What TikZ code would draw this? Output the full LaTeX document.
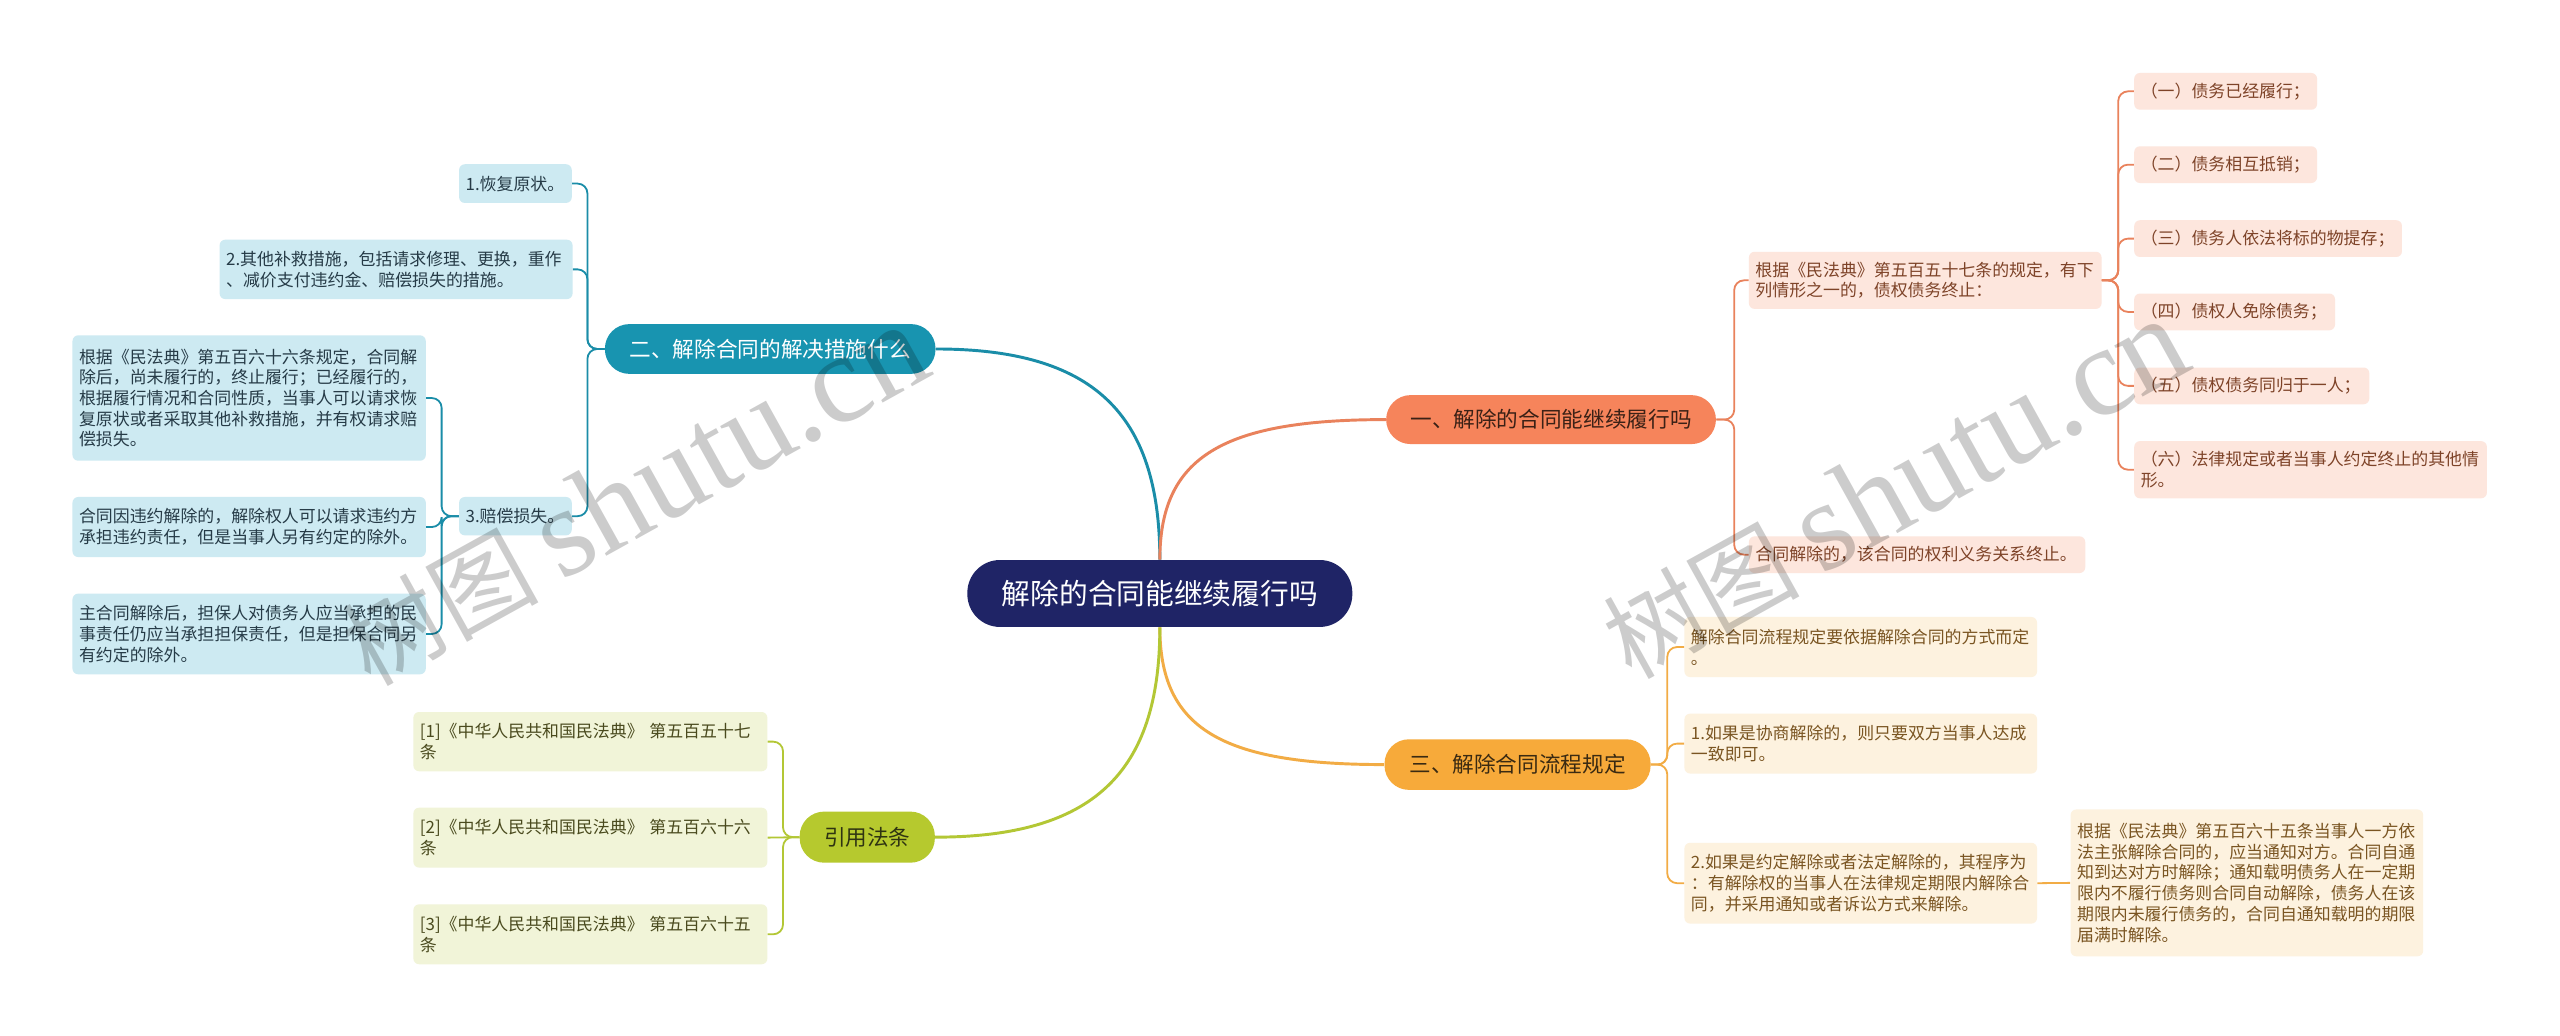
\documentclass[tikz,border=0pt]{standalone}
\usepackage{fontspec}
\setmainfont{Noto Sans CJK SC}
\newfontfamily\wmlatin{Liberation Serif}
\usetikzlibrary{calc}
\definecolor{cnavy}{HTML}{1F2466}
\definecolor{cteal}{HTML}{1894B0}
\definecolor{ctealline}{HTML}{1A8DA8}
\definecolor{ctealfill}{HTML}{CDEAF2}
\definecolor{ctealtxt}{HTML}{263B47}
\definecolor{corange}{HTML}{F6845B}
\definecolor{corangeline}{HTML}{E9825C}
\definecolor{corangefill}{HTML}{FDE6DD}
\definecolor{corangetxt}{HTML}{7E4328}
\definecolor{corangetop}{HTML}{3B2116}
\definecolor{camber}{HTML}{F7AA3A}
\definecolor{camberline}{HTML}{F2AC45}
\definecolor{camberfill}{HTML}{FDF2DF}
\definecolor{cambertxt}{HTML}{7A5522}
\definecolor{cambertop}{HTML}{3A2A12}
\definecolor{clime}{HTML}{B6C92E}
\definecolor{climeline}{HTML}{B3C735}
\definecolor{climefill}{HTML}{F1F4D8}
\definecolor{climetxt}{HTML}{4A4A1E}
\definecolor{climetop}{HTML}{2F3412}
\tikzset{
  topic/.style={rounded corners=15pt, inner sep=0pt, font=\fontsize{13.25}{16}\selectfont},
  leaf/.style={anchor=north west, rounded corners=3.5pt, inner xsep=4pt, inner ysep=0pt, align=left, font=\fontsize{10.36}{12.7}\selectfont},
  tealleaf/.style={leaf, fill=ctealfill, text=ctealtxt},
  orangeleaf/.style={leaf, fill=corangefill, text=corangetxt},
  amberleaf/.style={leaf, fill=camberfill, text=cambertxt},
  limeleaf/.style={leaf, fill=climefill, text=climetxt},
  mainlink/.style={line width=1.8pt},
  sublink/.style={line width=1.1pt, rounded corners=6pt},
  wm/.style={anchor=base west, text=black, text opacity=0.2, font=\fontsize{60}{60}\selectfont, inner sep=0pt, rotate=29},
}
\begin{document}
\begin{tikzpicture}[x=1pt,y=-1pt]
\useasboundingbox (0,0) rectangle (1568,634.5);
\fill[white] (0,0) rectangle (1568,634.5);

% central and main topics
\node[topic, fill=cnavy, text=white, minimum width=235.8pt, minimum height=41pt, rounded corners=20pt, font=\fontsize{17.6}{20}\selectfont] (c) at (710.4,363.5) {解除的合同能继续履行吗};
\node[topic, fill=corange, text=corangetop, minimum width=202pt, minimum height=30pt] (b1) at (950,257) {一、解除的合同能继续履行吗};
\node[topic, fill=cteal, text=white, minimum width=202.5pt, minimum height=30.5pt] (b2) at (471.75,213.75) {二、解除合同的解决措施什么};
\node[topic, fill=camber, text=cambertop, minimum width=163pt, minimum height=31pt] (b3) at (929.5,468.3) {三、解除合同流程规定};
\node[topic, fill=clime, text=climetop, minimum width=82.8pt, minimum height=31.3pt] (b4) at (531.2,512.75) {引用法条};

% branch 1
\node[orangeleaf, minimum width=216pt, text width=208pt, minimum height=35pt] (a1) at (1071,154) {根据《民法典》第五百五十七条的规定，有下\\列情形之一的，债权债务终止：};
\node[orangeleaf, minimum width=206pt, text width=198pt, minimum height=22.5pt] (a2) at (1071,328.3) {合同解除的，该合同的权利义务关系终止。};
\node[orangeleaf, minimum width=112pt, text width=104pt, minimum height=22.5pt] (k1) at (1307,44.5) {（一）债务已经履行；};
\node[orangeleaf, minimum width=112pt, text width=104pt, minimum height=22.5pt] (k2) at (1307,89.4) {（二）债务相互抵销；};
\node[orangeleaf, minimum width=164pt, text width=156pt, minimum height=22.5pt] (k3) at (1307,134.7) {（三）债务人依法将标的物提存；};
\node[orangeleaf, minimum width=123pt, text width=115pt, minimum height=22.5pt] (k4) at (1307,179.6) {（四）债权人免除债务；};
\node[orangeleaf, minimum width=144pt, text width=136pt, minimum height=22.5pt] (k5) at (1307,224.9) {（五）债权债务同归于一人；};
\node[orangeleaf, minimum width=216pt, text width=208pt, minimum height=35pt] (k6) at (1307,270) {（六）法律规定或者当事人约定终止的其他情\\形。};

% branch 2
\node[tealleaf, minimum width=69pt, text width=61pt, minimum height=23.7pt] (t1) at (281,100.4) {1.恢复原状。};
\node[tealleaf, minimum width=216.2pt, text width=208.2pt, minimum height=36.4pt] (t2) at (134.3,146.6) {2.其他补救措施，包括请求修理、更换，重作\\、减价支付违约金、赔偿损失的措施。};
\node[tealleaf, minimum width=69pt, text width=61pt, minimum height=23.5pt] (t3) at (281,304.2) {3.赔偿损失。};
\node[tealleaf, minimum width=216.4pt, text width=208.4pt, minimum height=76.8pt] (s1) at (44.2,205.2) {根据《民法典》第五百六十六条规定，合同解\\除后，尚未履行的，终止履行；已经履行的，\\根据履行情况和合同性质，当事人可以请求恢\\复原状或者采取其他补救措施，并有权请求赔\\偿损失。};
\node[tealleaf, minimum width=216.4pt, text width=208.4pt, minimum height=36.8pt] (s2) at (44.2,304.2) {合同因违约解除的，解除权人可以请求违约方\\承担违约责任，但是当事人另有约定的除外。};
\node[tealleaf, minimum width=216.4pt, text width=208.4pt, minimum height=49.4pt] (s3) at (44.2,363.4) {主合同解除后，担保人对债务人应当承担的民\\事责任仍应当承担担保责任，但是担保合同另\\有约定的除外。};

% branch 3
\node[amberleaf, minimum width=216pt, text width=208pt, minimum height=36.8pt] (r1) at (1031.5,377.7) {解除合同流程规定要依据解除合同的方式而定\\。};
\node[amberleaf, minimum width=216pt, text width=208pt, minimum height=36.7pt] (r2) at (1031.5,436.9) {1.如果是协商解除的，则只要双方当事人达成\\一致即可。};
\node[amberleaf, minimum width=216pt, text width=208pt, minimum height=49.5pt] (r3) at (1031.5,516) {2.如果是约定解除或者法定解除的，其程序为\\：有解除权的当事人在法律规定期限内解除合\\同，并采用通知或者诉讼方式来解除。};
\node[amberleaf, minimum width=216pt, text width=208pt, minimum height=89.9pt] (q) at (1268,495.6) {根据《民法典》第五百六十五条当事人一方依\\法主张解除合同的，应当通知对方。合同自通\\知到达对方时解除；通知载明债务人在一定期\\限内不履行债务则合同自动解除，债务人在该\\期限内未履行债务的，合同自通知载明的期限\\届满时解除。};

% branch 4
\node[limeleaf, minimum width=216.8pt, text width=208.8pt, minimum height=36.3pt] (g1) at (253,435.9) {[1]《中华人民共和国民法典》 第五百五十七\\条};
\node[limeleaf, minimum width=216.8pt, text width=208.8pt, minimum height=36.7pt] (g2) at (253,494.5) {[2]《中华人民共和国民法典》 第五百六十六\\条};
\node[limeleaf, minimum width=216.8pt, text width=208.8pt, minimum height=36.7pt] (g3) at (253,553.7) {[3]《中华人民共和国民法典》 第五百六十五\\条};

% main links
\draw[mainlink, ctealline] (c.north) .. controls +(0,-90) and +(96,0) .. (b2.east);
\draw[mainlink, corangeline] (c.north) .. controls +(0,-63) and +(-100,0) .. (b1.west);
\draw[mainlink, camberline] (c.south) .. controls +(0,62) and +(-100,0) .. (b3.west);
\draw[mainlink, climeline] (c.south) .. controls +(0,90) and +(96,0) .. (b4.east);

% sub links
\foreach \n in {a1,a2} \draw[sublink, corangeline] (b1.east) -- ++(11,0) |- (\n.west);
\foreach \n in {k1,k2,k3,k4,k5,k6} \draw[sublink, corangeline] (a1.east) -- ++(10,0) |- (\n.west);
\foreach \n in {t1,t2,t3} \draw[sublink, ctealline] (b2.west) -- ++(-10.5,0) |- (\n.east);
\foreach \n in {s1,s2,s3} \draw[sublink, ctealline] (t3.west) -- ++(-10.5,0) |- (\n.east);
\foreach \n in {r1,r2,r3} \draw[sublink, camberline] (b3.east) -- ++(10,0) |- (\n.west);
\draw[sublink, camberline] (r3.east) -- (q.west);
\foreach \n in {g1,g3} \draw[sublink, climeline] (b4.west) -- ++(-10,0) |- (\n.east);
\draw[sublink, climeline] (b4.west) -- (g2.east);

% watermarks
\node[wm] (wm1) at (227,421) {树图 {\wmlatin\fontsize{78}{78}\selectfont shutu.cn}};
\node[wm] (wm2) at (999,417) {树图 {\wmlatin\fontsize{78}{78}\selectfont shutu.cn}};
\end{tikzpicture}
\end{document}
